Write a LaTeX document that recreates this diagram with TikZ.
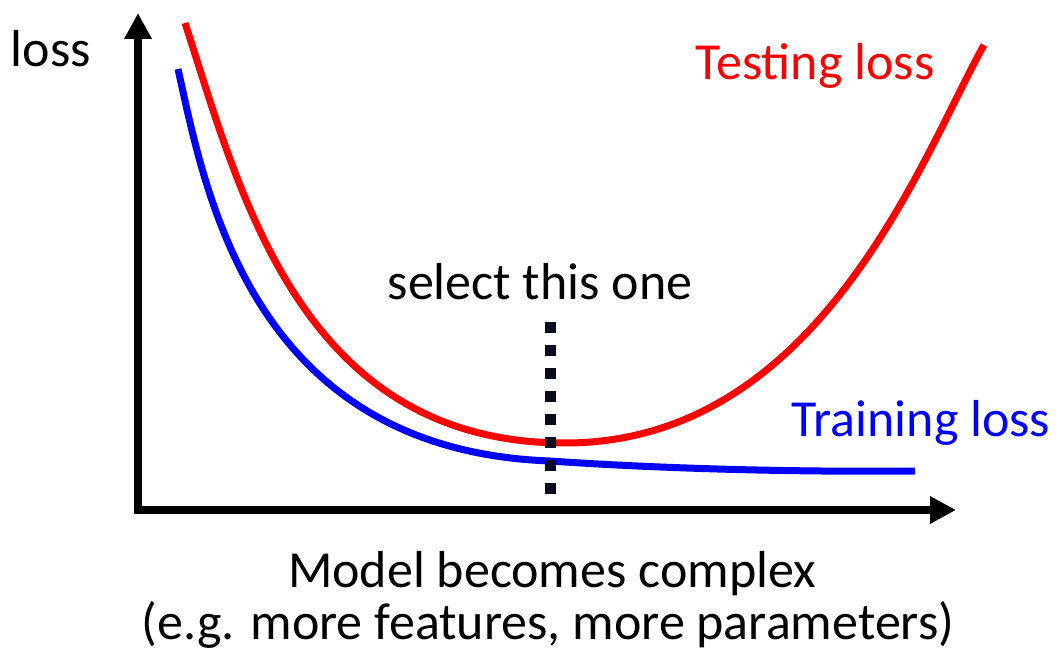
\documentclass[tikz,border=0pt]{standalone}
\usepackage{fontspec}
\setmainfont{Carlito}
\usepackage{tikz}
\usetikzlibrary{arrows.meta, positioning}

\definecolor{dotnavy}{RGB}{10,10,35}

\begin{document}
\begin{tikzpicture}[x=0.75pt, y=-0.75pt,
    lbl/.style={anchor=base, inner sep=0pt, font=\fontsize{39}{47}\selectfont},
    axis/.style={line width=6pt, line join=miter, {Triangle[length=19.5pt, width=19.5pt]}-{Triangle[length=19.5pt, width=19.5pt]}},
    lossline/.style={line width=5.25pt, line cap=butt}]
   \useasboundingbox (0,0) rectangle (1058,655);

   % curves
   \coordinate (TeA) at (185,23);
   \coordinate (TeMin) at (565,443);
   \coordinate (TeB) at (984,45);
   \draw[lossline, red] (TeA) .. controls (240,192) and (300,443) .. (TeMin)
      .. controls (820,443) and (922,156) .. (TeB);
   \coordinate (TrA) at (178,69);
   \coordinate (TrMid) at (550,461);
   \coordinate (TrB) at (915,471);
   \draw[lossline, blue] (TrA) .. controls (205,190) and (250,450) .. (TrMid)
      .. controls (680,470) and (820,472) .. (TrB);

   % the selected point
   \coordinate (Sel) at (550,322);
   \coordinate (SelB) at (550,512);
   \draw[dotnavy, line width=8.25pt, dash pattern=on 8.25pt off 9pt] (Sel) -- (SelB);

   % axes
   \coordinate (Y) at (138,13);
   \coordinate (O) at (138,510);
   \coordinate (X) at (956,510);
   \draw[axis] (Y) -- (O) -- (X);

   \node[lbl] (L) at (51,67) {loss};
   \node[lbl, red] (Te) at (815,80) {Testing loss};
   \node[lbl, blue] (Tr) at (921,437) {Training loss};
   \node[lbl] (S) at (540,300) {select this one};
   \node[lbl] (M) at (552,588) {Model becomes complex};
   \node[lbl] (E) at (548,640) {(e.g. more features, more parameters)};
\end{tikzpicture}
\end{document}
